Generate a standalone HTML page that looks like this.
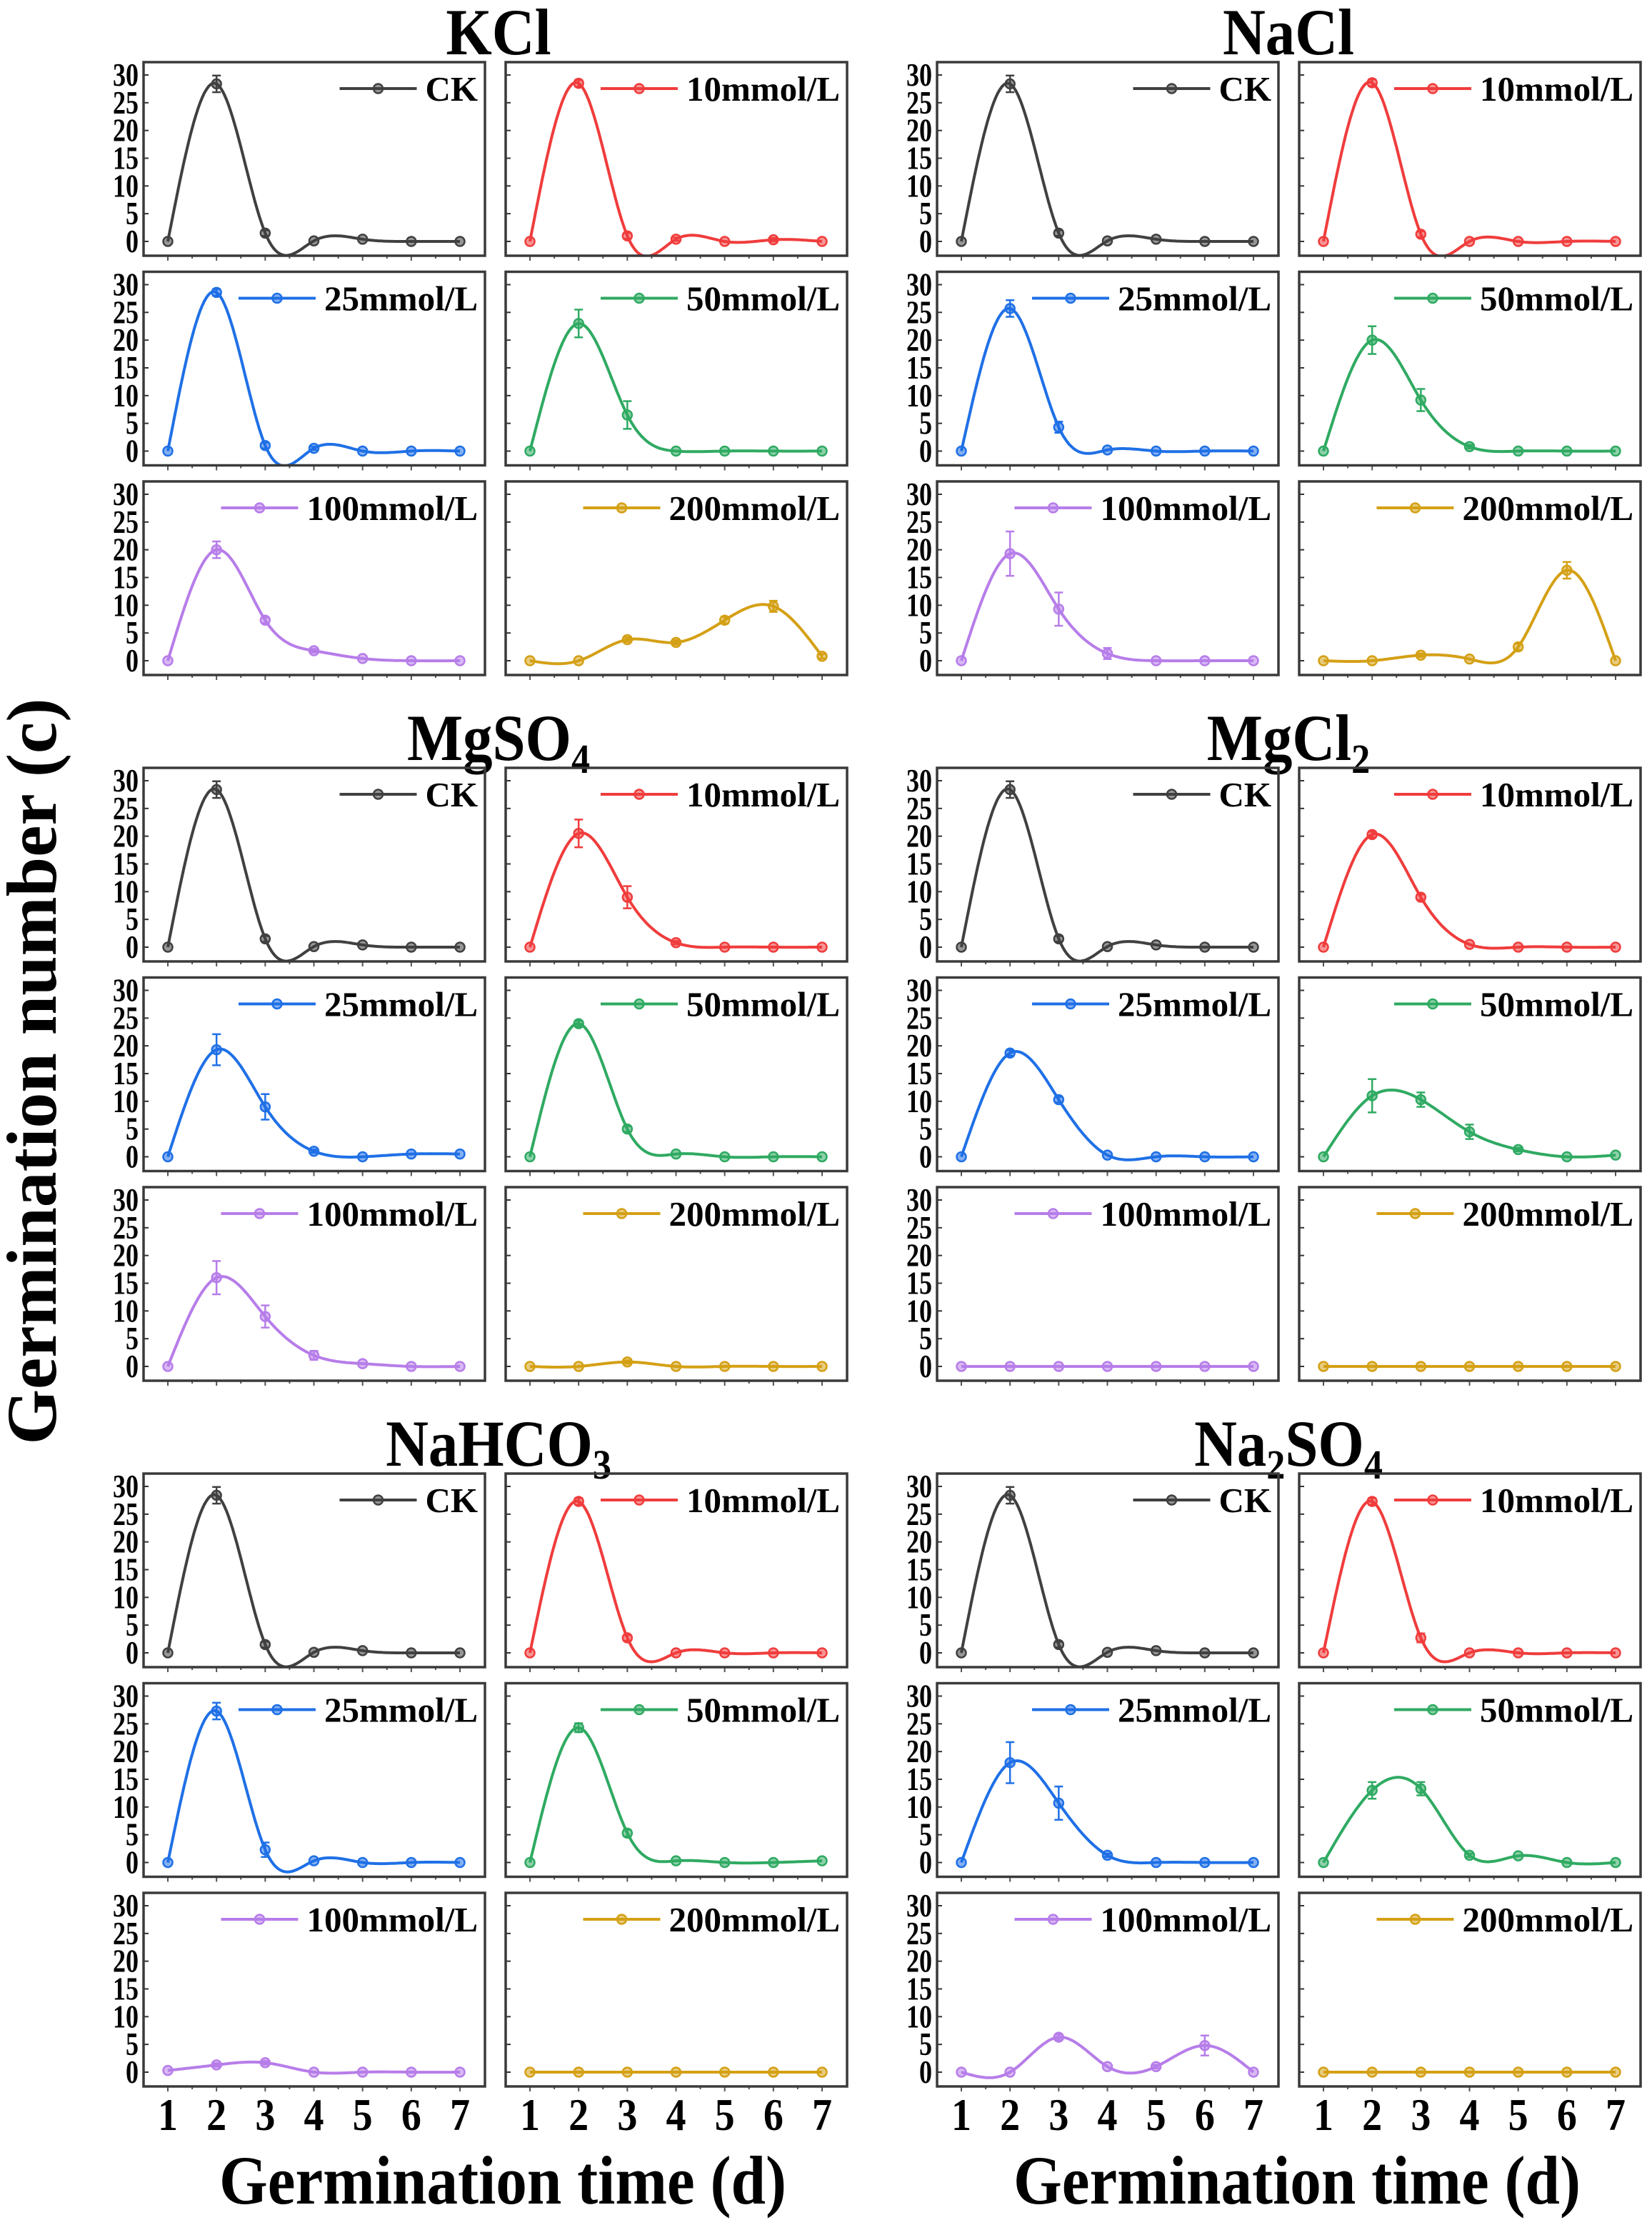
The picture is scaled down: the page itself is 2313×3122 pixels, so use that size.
<!DOCTYPE html>
<html><head><meta charset="utf-8"><style>
html,body{margin:0;padding:0;background:#fff;}
svg{display:block;font-family:"Liberation Serif",serif;font-weight:bold;}
</style></head><body>
<svg id="fig" width="2313" height="3122" viewBox="0 0 2313 3122" xmlns="http://www.w3.org/2000/svg">
<text transform="translate(78,1500) rotate(-90)" text-anchor="middle" font-size="100" textLength="1045" lengthAdjust="spacingAndGlyphs">Germination number (c)</text>
<text x="704" y="3085" text-anchor="middle" font-size="96" textLength="794" lengthAdjust="spacingAndGlyphs">Germination time (d)</text>
<text x="1816" y="3085" text-anchor="middle" font-size="96" textLength="794" lengthAdjust="spacingAndGlyphs">Germination time (d)</text>
<g transform="translate(698,76) scale(0.9,1)"><text x="0" y="0" text-anchor="middle" font-size="92">KCl</text></g>
<g transform="translate(1804,76) scale(0.9,1)"><text x="0" y="0" text-anchor="middle" font-size="92">NaCl</text></g>
<g transform="translate(698,1064) scale(0.9,1)"><text x="0" y="0" text-anchor="middle" font-size="92">MgSO<tspan font-size="58" dy="18">4</tspan></text></g>
<g transform="translate(1804,1064) scale(0.9,1)"><text x="0" y="0" text-anchor="middle" font-size="92">MgCl<tspan font-size="58" dy="18">2</tspan></text></g>
<g transform="translate(698,2052) scale(0.9,1)"><text x="0" y="0" text-anchor="middle" font-size="92">NaHCO<tspan font-size="58" dy="18">3</tspan></text></g>
<g transform="translate(1804,2052) scale(0.9,1)"><text x="0" y="0" text-anchor="middle" font-size="92">Na<tspan font-size="58" dy="18">2</tspan><tspan dy="-18">SO</tspan><tspan font-size="58" dy="18">4</tspan></text></g>
</svg>
<script>
const days = [1,2,3,4,5,6,7];
const yTicks = [0,5,10,15,20,25,30];
const seriesLabels = ["CK","10mmol/L","25mmol/L","50mmol/L","100mmol/L","200mmol/L"];
const saltNames = ["kcl","nacl","mgso4","mgcl2","nahco3","na2so4"];
const ckValues = [0,28.4,1.5,0.1,0.4,0,0];
const ckErrors = [0,1.5,0.5,0,0,0,0];
const kclValues = [ckValues,[0,28.5,1,0.4,0,0.3,0],[0,28.6,1,0.5,0,0,0],[0,23,6.5,0,0,0,0],[0,20,7.3,1.8,0.4,0,0],[0,0,3.8,3.3,7.3,9.8,0.8]];
const kclErrors = [ckErrors,[0,0.6,0.5,0.3,0,0.3,0],[0,0.6,0.5,0.3,0,0,0],[0,2.5,2.5,0,0,0,0],[0,1.5,0.5,0.3,0.2,0,0],[0,0,0.4,0.4,0.6,1,0.4]];
const naclValues = [ckValues,[0,28.6,1.3,0,0,0,0],[0,25.7,4.3,0.2,0,0,0],[0,20,9.2,0.8,0,0,0],[0,19.3,9.3,1.3,0,0,0],[0,0,1,0.3,2.5,16.3,0]];
const naclErrors = [ckErrors,[0,0.6,0.5,0,0,0,0],[0,1.5,1,0,0,0,0],[0,2.5,2,0.3,0,0,0],[0,4,3,1,0,0,0],[0,0,0.3,0,0.6,1.5,0]];
const mgso4Values = [ckValues,[0,20.5,9,0.8,0,0,0],[0,19.3,9,1,0,0.5,0.5],[0,24,5,0.5,0,0,0],[0,16,9,2,0.5,0,0],[0,0,0.8,0,0,0,0]];
const mgso4Errors = [ckErrors,[0,2.5,2,0.3,0,0,0],[0,2.8,2.3,0.3,0,0,0],[0,0.5,0.5,0,0,0,0],[0,3,2,0.8,0,0,0],[0,0,0.3,0,0,0,0]];
const mgcl2Values = [ckValues,[0,20.3,9,0.5,0,0,0],[0,18.7,10.3,0.3,0,0,0],[0,11,10.3,4.5,1.3,0,0.3],[0,0,0,0,0,0,0],[0,0,0,0,0,0,0]];
const mgcl2Errors = [ckErrors,[0,0.5,0.5,0,0,0,0],[0,0.5,0.5,0,0,0,0],[0,3,1.3,1.3,0.3,0,0],[0,0,0,0,0,0,0],[0,0,0,0,0,0,0]];
const nahco3Values = [ckValues,[0,27.3,2.7,0,0,0,0],[0,27.3,2.3,0.3,0,0,0],[0,24.3,5.3,0.3,0,0,0.3],[0.3,1.3,1.7,0,0,0,0],[0,0,0,0,0,0,0]];
const nahco3Errors = [ckErrors,[0,0.6,0.5,0,0,0,0],[0,1.5,1.3,0,0,0,0],[0,0.8,0.6,0,0,0,0],[0,0.3,0.3,0,0,0,0],[0,0,0,0,0,0,0]];
const na2so4Values = [ckValues,[0,27.3,2.7,0,0,0,0],[0,18,10.7,1.3,0,0,0],[0,13,13.3,1.3,1.2,0,0],[0,0,6.3,1,1,4.8,0],[0,0,0,0,0,0,0]];
const na2so4Errors = [ckErrors,[0,0.6,0.8,0,0,0,0],[0,3.7,3,0.3,0,0,0],[0,1.5,1.2,0.3,0,0,0],[0,0,0.5,0,0.3,1.8,0],[0,0,0,0,0,0,0]];

const allValues = [kclValues,naclValues,mgso4Values,mgcl2Values,nahco3Values,na2so4Values];
const allErrors = [kclErrors,naclErrors,mgso4Errors,mgcl2Errors,nahco3Errors,na2so4Errors];
const colors = ["#404040","#f03c3c","#1f70e6","#2faa62","#b77de9","#d4a015"];
const NS = "http://www.w3.org/2000/svg";
const svg = document.getElementById('fig');
const colLeft = [201,708,1312,1819];
const groupTop = [87,1075,2063];
const rowOff = [0,293.5,587];
const PW = 478, PH = 271;
function mk(tag, attrs, parent){const e=document.createElementNS(NS,tag);for(const k in attrs)e.setAttribute(k,attrs[k]);(parent||svg).appendChild(e);return e;}
function spline(xs, ys){
  const n=xs.length, h=[], al=[0], l=[1], mu=[0], z=[0], c=new Array(n).fill(0);
  for(let i=0;i<n-1;i++)h.push(xs[i+1]-xs[i]);
  for(let i=1;i<n-1;i++)al.push(3/h[i]*(ys[i+1]-ys[i])-3/h[i-1]*(ys[i]-ys[i-1]));
  for(let i=1;i<n-1;i++){l[i]=2*(xs[i+1]-xs[i-1])-h[i-1]*mu[i-1];mu[i]=h[i]/l[i];z[i]=(al[i]-h[i-1]*z[i-1])/l[i];}
  l[n-1]=1;z[n-1]=0;
  const b=[],d=[];
  for(let j=n-2;j>=0;j--){c[j]=z[j]-mu[j]*c[j+1];b[j]=(ys[j+1]-ys[j])/h[j]-h[j]*(c[j+1]+2*c[j])/3;d[j]=(c[j+1]-c[j])/(3*h[j]);}
  const pts=[];
  for(let j=0;j<n-1;j++){for(let k=0;k<24;k++){const t=h[j]*k/24;pts.push([xs[j]+t,ys[j]+b[j]*t+c[j]*t*t+d[j]*t*t*t]);}}
  pts.push([xs[n-1],ys[n-1]]);
  return pts;
}
let clipId=0;
for(let s=0;s<6;s++){
  const g=Math.floor(s/2), side=s%2;
  for(let k=0;k<6;k++){
    const r=Math.floor(k/2), c=side*2+(k%2);
    const px=colLeft[c], py=groupTop[g]+rowOff[r];
    const xS=v=>px+34+(v-1)*(409/6);
    const yS=v=>py+251-(v)*(233/30);
    const grp=mk('g',{});
    
    
    const id='cp'+(clipId++);
    const cp=mk('clipPath',{id:id},grp);mk('rect',{x:px,y:py,width:PW,height:PH},cp);
    for(const t of yTicks){mk('line',{x1:px,x2:px+7,y1:yS(t),y2:yS(t),stroke:'#333','stroke-width':2},grp);
      if(c%2===0){const tl=mk('text',{x:px-7,y:yS(t)+15,'text-anchor':'end','font-size':46,textLength:t>=10?36:18,lengthAdjust:'spacingAndGlyphs'},grp);tl.textContent=t;
        
        }}
    for(let i=0;i<13;i++){const xv=1+i*0.5;mk('line',{x1:xS(xv),x2:xS(xv),y1:py+PH,y2:py+PH+(i%2?4:7),stroke:'#555','stroke-width':2},grp);}
    if(g===2&&r===2){for(const d of days){const tl=mk('text',{x:xS(d),y:2982,'text-anchor':'middle','font-size':64,textLength:28,lengthAdjust:'spacingAndGlyphs'},grp);tl.textContent=d;
      
      }}
    const vals=allValues[s][k], errs=allErrors[s][k], col=colors[k];
    const pts=spline(days,vals);
    const dstr=pts.map((p,i)=>(i?'L':'M')+xS(p[0]).toFixed(1)+','+yS(p[1]).toFixed(1)).join('');
    const path=mk('path',{d:dstr,fill:'none',stroke:col,'stroke-width':4,'clip-path':'url(#'+id+')'},grp);
    
    
    for(let i=0;i<days.length;i++){
      const x=xS(days[i]),y=yS(vals[i]);
      if(errs[i]>0.2){const e1=yS(vals[i]+errs[i]),e2=yS(vals[i]-errs[i]);
        mk('line',{x1:x,x2:x,y1:e1,y2:e2,stroke:col,'stroke-width':2.5},grp);
        mk('line',{x1:x-6,x2:x+6,y1:e1,y2:e1,stroke:col,'stroke-width':2.5},grp);
        mk('line',{x1:x-6,x2:x+6,y1:e2,y2:e2,stroke:col,'stroke-width':2.5},grp);}
      const m=mk('circle',{cx:x,cy:y,r:6.5,fill:col,stroke:col,'stroke-width':2.5,'fill-opacity':0.55},grp);
      
      
    }
    mk('rect',{x:px,y:py,width:PW,height:PH,fill:'none',stroke:'#3a3a3a','stroke-width':3.5},grp);
    const lt=mk('text',{x:px+468,y:py+54,'text-anchor':'end','font-size':49},grp);
    lt.textContent=seriesLabels[k];
    
    
    const w=lt.getComputedTextLength?lt.getComputedTextLength():seriesLabels[k].length*24;
    const lx2=px+468-w-12, lx1=lx2-108, ly=py+37;
    const ll=mk('line',{x1:lx1,x2:lx2,y1:ly,y2:ly,stroke:col,'stroke-width':4},grp);
    
    
    mk('circle',{cx:(lx1+lx2)/2,cy:ly,r:6.5,fill:col,stroke:col,'stroke-width':2.5,'fill-opacity':0.55},grp);
  }
}
</script>
</body></html>
